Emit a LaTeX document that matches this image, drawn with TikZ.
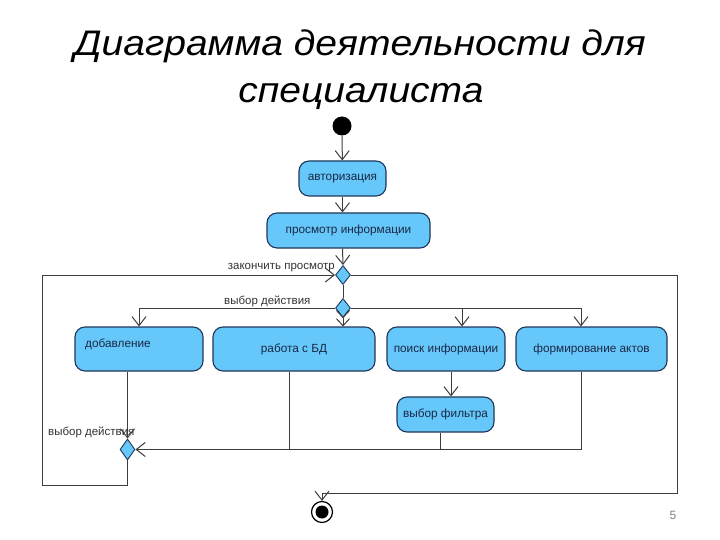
\documentclass[tikz,border=0pt]{standalone}
\usepackage{fontspec}
\setmainfont{Liberation Sans}
\newfontfamily\ttlfont[FakeStretch=1.1]{Liberation Sans}
\usetikzlibrary{arrows.meta,shapes.geometric}
\definecolor{actfill}{RGB}{102,200,250}
\definecolor{actdraw}{RGB}{30,55,90}
\definecolor{acttext}{RGB}{25,40,70}
\definecolor{conn}{RGB}{60,60,60}
\begin{document}
\begin{tikzpicture}[x=1pt,y=-1pt,
  act/.style={draw=actdraw, fill=actfill, rounded corners=10pt, line width=1.1pt,
    text=acttext, font=\fontsize{11.8}{13}\selectfont, inner sep=0pt},
  dec/.style={diamond, draw=actdraw, fill=actfill, line width=0.9pt,
    minimum width=15pt, minimum height=19pt, inner sep=0pt},
  flow/.style={draw=conn, line width=1pt},
  arr/.style={-{Straight Barb[length=9pt,width=14pt]}},
  darr/.style={-{Straight Barb[length=7pt,width=13pt]Straight Barb[length=7pt,width=13pt]}},
  lbl/.style={text=black!80, font=\fontsize{11.5}{13}\selectfont, inner sep=0pt},
  ttl/.style={font=\ttlfont\fontsize{35.5}{44}\selectfont\itshape, inner sep=0pt}
]
\useasboundingbox (0,0) rectangle (720,540);

% title
\node[ttl, anchor=base] (t1) at (360,56) {Диаграмма деятельности для};
\node[ttl, anchor=base] (t2) at (361,103) {специалиста};

% start / end
\node[circle, fill=black, minimum size=19pt, inner sep=0pt] (start) at (342,126) {};
\node[circle, draw=black, fill=white, line width=1.2pt, minimum size=21pt, inner sep=0pt] (end) at (322,512) {};
\node[circle, fill=black, minimum size=13pt, inner sep=0pt] (endin) at (322,512) {};

% activities
\node[act, minimum width=87pt, minimum height=35pt] (avt) at (342.5,178.5) {авторизация};
\node[act, minimum width=163pt, minimum height=35pt] (prosm) at (348.5,230.5) {просмотр информации};
\node[act, minimum width=128pt, minimum height=44pt] (dob) at (139,349) {};
\node[lbl, text=acttext, font=\fontsize{11.8}{13}\selectfont, anchor=base west] (dobt) at (85,347) {добавление};
\node[act, minimum width=162pt, minimum height=44pt] (rab) at (294,349) {работа с БД};
\node[act, minimum width=118pt, minimum height=44pt] (poisk) at (446,349) {поиск информации};
\node[act, minimum width=151pt, minimum height=44pt] (form) at (591.5,349) {формирование актов};
\node[act, minimum width=97pt, minimum height=35pt] (filtr) at (445.5,414.5) {выбор фильтра};

% decisions
\node[dec] (d1) at (343,275) {};
\node[dec] (d2) at (343,308) {};
\node[dec, minimum height=21pt] (d3) at (127.5,449.5) {};

% labels
\node[lbl, anchor=base east] (l1) at (335,269) {закончить просмотр};
\node[lbl, anchor=base west] (l2) at (224,304) {выбор действия};
\node[lbl, anchor=base west] (l3) at (48,435) {выбор действия};

% page number
\node[text=gray, font=\fontsize{12}{14}\selectfont] (pg) at (673,515) {5};

% helper coordinates
\coordinate (pN) at ([xshift=16pt]poisk.north);
\coordinate (fN) at ([xshift=-10.5pt]form.north);
\coordinate (fS) at ([xshift=-10.5pt]form.south);
\coordinate (lb) at (42,485);
\coordinate (rb) at (677,493);

% connectors
\draw[flow,arr] (start) -- (avt);
\draw[flow,arr] (avt.south) -- (avt.south |- prosm.north);
\draw[flow,arr] (avt.south |- prosm.south) -- (d1.north);
\draw[flow] (d1.south) -- (d2.north);
\draw[flow,arr] (d2.west) -| (dob.north);
\draw[flow,darr] (d2.south) -- (d2.south |- rab.north);
\draw[flow,arr] (d2.east) -| (fN);
\draw[flow,arr] (d2.east -| pN) -- (pN);
\draw[flow,arr] ([xshift=5pt]poisk.south) -- ([xshift=5pt]poisk.south |- filtr.north);
\draw[flow] ([xshift=-5pt]filtr.south) -- ([xshift=-5pt]filtr.south |- d3.east);
\draw[flow] ([xshift=-5pt]rab.south) -- ([xshift=-5pt]rab.south |- d3.east);
\draw[flow] (fS) -- (fS |- d3.east);
\draw[flow,arr] (fS |- d3.east) -- (d3.east);
\draw[flow,arr] ([xshift=-11.5pt]dob.south) -- (d3.north);
\draw[flow,arr] (d3.south) |- (lb) |- (d1.west);
\draw[flow,arr] (d1.east) -| (rb) -| (end.north);
\end{tikzpicture}
\end{document}
